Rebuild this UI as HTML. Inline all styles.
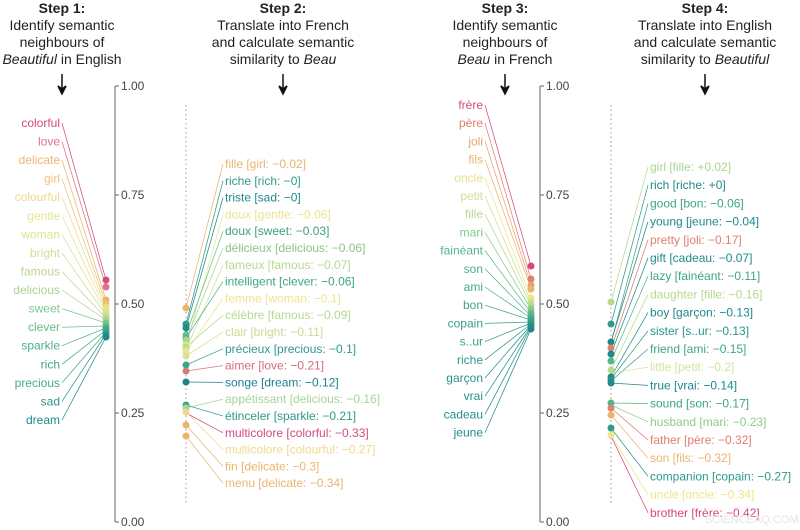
<!DOCTYPE html>
<html><head><meta charset="utf-8"><style>
body{margin:0;background:#fff}
svg{display:block;font-family:"Liberation Sans",Arial,sans-serif}
.t{font-size:14px;fill:#222;text-anchor:middle}
.l{font-size:12px}
.l line{stroke-width:0.75}
.ax{font-size:12px;fill:#444}
</style></head><body>
<svg width="800" height="530" viewBox="0 0 800 530" xmlns="http://www.w3.org/2000/svg">
<g class="t">
<text x="62" y="13" font-weight="bold">Step 1:</text>
<text x="62" y="30">Identify semantic</text>
<text x="62" y="47">neighbours of</text>
<text x="62" y="64"><tspan font-style="italic">Beautiful</tspan> in English</text>
<text x="283" y="13" font-weight="bold">Step 2:</text>
<text x="283" y="30">Translate into French</text>
<text x="283" y="47">and calculate semantic</text>
<text x="283" y="64">similarity to <tspan font-style="italic">Beau</tspan></text>
<text x="505" y="13" font-weight="bold">Step 3:</text>
<text x="505" y="30">Identify semantic</text>
<text x="505" y="47">neighbours of</text>
<text x="505" y="64"><tspan font-style="italic">Beau</tspan> in French</text>
<text x="705" y="13" font-weight="bold">Step 4:</text>
<text x="705" y="30">Translate into English</text>
<text x="705" y="47">and calculate semantic</text>
<text x="705" y="64">similarity to <tspan font-style="italic">Beautiful</tspan></text>
</g>
<g stroke="#111" stroke-width="1.5">
<line x1="62" y1="74" x2="62" y2="92"/><path d="M58,86 L62,94 L66,86 L62,89Z" fill="#111"/>
<line x1="283" y1="74" x2="283" y2="92"/><path d="M279,86 L283,94 L287,86 L283,89Z" fill="#111"/>
<line x1="505" y1="74" x2="505" y2="92"/><path d="M501,86 L505,94 L509,86 L505,89Z" fill="#111"/>
<line x1="705" y1="74" x2="705" y2="92"/><path d="M701,86 L705,94 L709,86 L705,89Z" fill="#111"/>
</g>
<g stroke="#666" stroke-width="1">
<line x1="115" y1="86" x2="115" y2="522"/>
<line x1="115" y1="86" x2="119" y2="86"/><line x1="115" y1="195" x2="119" y2="195"/><line x1="115" y1="304" x2="119" y2="304"/><line x1="115" y1="413" x2="119" y2="413"/><line x1="115" y1="522" x2="119" y2="522"/>
<line x1="540" y1="86" x2="540" y2="522"/>
<line x1="540" y1="86" x2="544" y2="86"/><line x1="540" y1="195" x2="544" y2="195"/><line x1="540" y1="304" x2="544" y2="304"/><line x1="540" y1="413" x2="544" y2="413"/><line x1="540" y1="522" x2="544" y2="522"/>
</g>
<g class="ax">
<text x="121" y="90">1.00</text><text x="121" y="199">0.75</text><text x="121" y="308">0.50</text><text x="121" y="417">0.25</text><text x="121" y="526">0.00</text>
<text x="546" y="90">1.00</text><text x="546" y="199">0.75</text><text x="546" y="308">0.50</text><text x="546" y="417">0.25</text><text x="546" y="526">0.00</text>
</g>
<g stroke="#aaa" stroke-width="1.2" stroke-dasharray="1.5,3">
<line x1="186" y1="105" x2="186" y2="505"/>
<line x1="611" y1="105" x2="611" y2="505"/>
</g>
<g class="l" text-anchor="end">
<line x1="62" y1="123" x2="106" y2="280" stroke="#d4497e"/><text x="60" y="127" fill="#d4497e">colorful</text>
<line x1="62" y1="141.6" x2="106" y2="287" stroke="#e07088"/><text x="60" y="145.6" fill="#e07088">love</text>
<line x1="62" y1="160.1" x2="106" y2="300" stroke="#ebb46e"/><text x="60" y="164.1" fill="#ebb46e">delicate</text>
<line x1="62" y1="178.7" x2="106" y2="304" stroke="#ecc276"/><text x="60" y="182.7" fill="#ecc276">girl</text>
<line x1="62" y1="197.2" x2="106" y2="307" stroke="#efd98a"/><text x="60" y="201.2" fill="#efd98a">colourful</text>
<line x1="62" y1="215.8" x2="106" y2="310" stroke="#e3e58e"/><text x="60" y="219.8" fill="#e3e58e">gentle</text>
<line x1="62" y1="234.4" x2="106" y2="312" stroke="#dde48e"/><text x="60" y="238.4" fill="#dde48e">woman</text>
<line x1="62" y1="252.9" x2="106" y2="315" stroke="#cfe095"/><text x="60" y="256.9" fill="#cfe095">bright</text>
<line x1="62" y1="271.5" x2="106" y2="318" stroke="#b8d88e"/><text x="60" y="275.5" fill="#b8d88e">famous</text>
<line x1="62" y1="290" x2="106" y2="320" stroke="#a9d493"/><text x="60" y="294" fill="#a9d493">delicious</text>
<line x1="62" y1="308.6" x2="106" y2="323" stroke="#7fc68a"/><text x="60" y="312.6" fill="#7fc68a">sweet</text>
<line x1="62" y1="327.2" x2="106" y2="326" stroke="#66bb8a"/><text x="60" y="331.2" fill="#66bb8a">clever</text>
<line x1="62" y1="345.7" x2="106" y2="328" stroke="#4fb08a"/><text x="60" y="349.7" fill="#4fb08a">sparkle</text>
<line x1="62" y1="364.3" x2="106" y2="330" stroke="#3ea48a"/><text x="60" y="368.3" fill="#3ea48a">rich</text>
<line x1="62" y1="382.8" x2="106" y2="332" stroke="#44ab88"/><text x="60" y="386.8" fill="#44ab88">precious</text>
<line x1="62" y1="401.4" x2="106" y2="334" stroke="#2b9688"/><text x="60" y="405.4" fill="#2b9688">sad</text>
<line x1="62" y1="420" x2="106" y2="337" stroke="#1f8a8a"/><text x="60" y="424" fill="#1f8a8a">dream</text>
</g>
<g>
<circle cx="106" cy="280" r="3.5" fill="#d4497e"/><circle cx="106" cy="287" r="3.5" fill="#e07088"/><circle cx="106" cy="300" r="3.5" fill="#ebb46e"/><circle cx="106" cy="304" r="3.5" fill="#ecc276"/><circle cx="106" cy="307" r="3.5" fill="#efd98a"/><circle cx="106" cy="310" r="3.5" fill="#e3e58e"/><circle cx="106" cy="312" r="3.5" fill="#dde48e"/><circle cx="106" cy="315" r="3.5" fill="#cfe095"/><circle cx="106" cy="318" r="3.5" fill="#b8d88e"/><circle cx="106" cy="320" r="3.5" fill="#a9d493"/><circle cx="106" cy="323" r="3.5" fill="#7fc68a"/><circle cx="106" cy="326" r="3.5" fill="#66bb8a"/><circle cx="106" cy="328" r="3.5" fill="#4fb08a"/><circle cx="106" cy="330" r="3.5" fill="#3ea48a"/><circle cx="106" cy="332" r="3.5" fill="#44ab88"/><circle cx="106" cy="334" r="3.5" fill="#2b9688"/><circle cx="106" cy="337" r="3.5" fill="#1f8a8a"/>
</g>
<g class="l">
<line x1="223" y1="164" x2="186" y2="308" stroke="#ebb46e"/><text x="225" y="168" fill="#ebb46e">fille [girl: −0.02]</text>
<line x1="223" y1="180.8" x2="186" y2="324" stroke="#2e9a88"/><text x="225" y="184.8" fill="#2e9a88">riche [rich: −0]</text>
<line x1="223" y1="197.6" x2="186" y2="328" stroke="#1f8a8a"/><text x="225" y="201.6" fill="#1f8a8a">triste [sad: −0]</text>
<line x1="223" y1="214.4" x2="186" y2="345" stroke="#e8e48e"/><text x="225" y="218.4" fill="#e8e48e">doux [gentle: −0.06]</text>
<line x1="223" y1="231.2" x2="186" y2="335" stroke="#6cbf88"/><text x="225" y="235.2" fill="#3f9f7a">doux [sweet: −0.03]</text>
<line x1="223" y1="248" x2="186" y2="340" stroke="#a9d493"/><text x="225" y="252" fill="#8fc48a">délicieux [delicious: −0.06]</text>
<line x1="223" y1="264.8" x2="186" y2="350" stroke="#cfe095"/><text x="225" y="268.8" fill="#b8d88e">fameux [famous: −0.07]</text>
<line x1="223" y1="281.6" x2="186" y2="338" stroke="#55b48a"/><text x="225" y="285.6" fill="#3ea48a">intelligent [clever: −0.06]</text>
<line x1="223" y1="298.4" x2="186" y2="352" stroke="#ece68c"/><text x="225" y="302.4" fill="#ece68c">femme [woman: −0.1]</text>
<line x1="223" y1="315.2" x2="186" y2="347" stroke="#b8d88e"/><text x="225" y="319.2" fill="#b8d88e">célèbre [famous: −0.09]</text>
<line x1="223" y1="332" x2="186" y2="356" stroke="#d5e39a"/><text x="225" y="336" fill="#c8dc94">clair [bright: −0.11]</text>
<line x1="223" y1="348.8" x2="186" y2="365" stroke="#3ea48a"/><text x="225" y="352.8" fill="#2e9a88">précieux [precious: −0.1]</text>
<line x1="223" y1="365.6" x2="186" y2="371" stroke="#d67a7a"/><text x="225" y="369.6" fill="#d66a7a">aimer [love: −0.21]</text>
<line x1="223" y1="382.4" x2="186" y2="382" stroke="#1f8090"/><text x="225" y="386.4" fill="#1f8090">songe [dream: −0.12]</text>
<line x1="223" y1="399.2" x2="186" y2="408" stroke="#a9d493"/><text x="225" y="403.2" fill="#a9d493">appétissant [delicious: −0.16]</text>
<line x1="223" y1="416" x2="186" y2="405" stroke="#3ea48a"/><text x="225" y="420" fill="#2e9a88">étinceler [sparkle: −0.21]</text>
<line x1="223" y1="432.8" x2="186" y2="413" stroke="#d4497e"/><text x="225" y="436.8" fill="#d4497e">multicolore [colorful: −0.33]</text>
<line x1="223" y1="449.6" x2="186" y2="412" stroke="#efd98a"/><text x="225" y="453.6" fill="#efd98a">multicolore [colourful: −0.27]</text>
<line x1="223" y1="466.4" x2="186" y2="425" stroke="#ebb46e"/><text x="225" y="470.4" fill="#ebb46e">fin [delicate: −0.3]</text>
<line x1="223" y1="483.2" x2="186" y2="436" stroke="#ebb46e"/><text x="225" y="487.2" fill="#ebb46e">menu [delicate: −0.34]</text>
</g>
<g>
<circle cx="186" cy="308" r="3.5" fill="#ebb46e"/><circle cx="186" cy="324" r="3.5" fill="#2e9a88"/><circle cx="186" cy="328" r="3.5" fill="#1f8a8a"/><circle cx="186" cy="335" r="3.5" fill="#6cbf88"/><circle cx="186" cy="338" r="3.5" fill="#55b48a"/><circle cx="186" cy="340" r="3.5" fill="#a9d493"/><circle cx="186" cy="345" r="3.5" fill="#e8e48e"/><circle cx="186" cy="347" r="3.5" fill="#b8d88e"/><circle cx="186" cy="350" r="3.5" fill="#cfe095"/><circle cx="186" cy="352" r="3.5" fill="#ece68c"/><circle cx="186" cy="356" r="3.5" fill="#d5e39a"/><circle cx="186" cy="365" r="3.5" fill="#3ea48a"/><circle cx="186" cy="371" r="3.5" fill="#d67a7a"/><circle cx="186" cy="382" r="3.5" fill="#1f8090"/><circle cx="186" cy="405" r="3.5" fill="#3ea48a"/><circle cx="186" cy="408" r="3.5" fill="#a9d493"/><circle cx="186" cy="412" r="3.5" fill="#efd98a"/><circle cx="186" cy="425" r="3.5" fill="#ebb46e"/><circle cx="186" cy="436" r="3.5" fill="#ebb46e"/>
</g>
<g class="l" text-anchor="end">
<line x1="485" y1="105" x2="531" y2="266" stroke="#d4497e"/><text x="483" y="109" fill="#d4497e">frère</text>
<line x1="485" y1="123.2" x2="531" y2="279" stroke="#e0806e"/><text x="483" y="127.2" fill="#e0806e">père</text>
<line x1="485" y1="141.4" x2="531" y2="285" stroke="#e8a070"/><text x="483" y="145.4" fill="#e8a070">joli</text>
<line x1="485" y1="159.6" x2="531" y2="289" stroke="#ebb46e"/><text x="483" y="163.6" fill="#ebb46e">fils</text>
<line x1="485" y1="177.8" x2="531" y2="298" stroke="#ece68c"/><text x="483" y="181.8" fill="#e3e08c">oncle</text>
<line x1="485" y1="196" x2="531" y2="302" stroke="#cfe095"/><text x="483" y="200" fill="#cfe095">petit</text>
<line x1="485" y1="214.2" x2="531" y2="305" stroke="#b8d88e"/><text x="483" y="218.2" fill="#b8d88e">fille</text>
<line x1="485" y1="232.4" x2="531" y2="309" stroke="#8ccc8a"/><text x="483" y="236.4" fill="#7fc68a">mari</text>
<line x1="485" y1="250.6" x2="531" y2="313" stroke="#66bb8a"/><text x="483" y="254.6" fill="#55b48a">fainéant</text>
<line x1="485" y1="268.8" x2="531" y2="316" stroke="#55b48a"/><text x="483" y="272.8" fill="#4fb08a">son</text>
<line x1="485" y1="287" x2="531" y2="318" stroke="#4aae8a"/><text x="483" y="291" fill="#44ab88">ami</text>
<line x1="485" y1="305.2" x2="531" y2="320" stroke="#3ea48a"/><text x="483" y="309.2" fill="#3ea48a">bon</text>
<line x1="485" y1="323.4" x2="531" y2="322" stroke="#38a08a"/><text x="483" y="327.4" fill="#38a08a">copain</text>
<line x1="485" y1="341.6" x2="531" y2="323" stroke="#35a08a"/><text x="483" y="345.6" fill="#35a08a">s..ur</text>
<line x1="485" y1="359.8" x2="531" y2="324" stroke="#2e9a88"/><text x="483" y="363.8" fill="#2e9a88">riche</text>
<line x1="485" y1="378" x2="531" y2="325" stroke="#2a9588"/><text x="483" y="382" fill="#2a9588">garçon</text>
<line x1="485" y1="396.2" x2="531" y2="326" stroke="#25918a"/><text x="483" y="400.2" fill="#25918a">vrai</text>
<line x1="485" y1="414.4" x2="531" y2="327" stroke="#22908a"/><text x="483" y="418.4" fill="#22908a">cadeau</text>
<line x1="485" y1="432.6" x2="531" y2="329" stroke="#1f8a8a"/><text x="483" y="436.6" fill="#1f8a8a">jeune</text>
</g>
<g>
<circle cx="531" cy="266" r="3.5" fill="#d4497e"/><circle cx="531" cy="279" r="3.5" fill="#e0806e"/><circle cx="531" cy="285" r="3.5" fill="#e8a070"/><circle cx="531" cy="289" r="3.5" fill="#ebb46e"/><circle cx="531" cy="298" r="3.5" fill="#ece68c"/><circle cx="531" cy="302" r="3.5" fill="#cfe095"/><circle cx="531" cy="305" r="3.5" fill="#b8d88e"/><circle cx="531" cy="309" r="3.5" fill="#8ccc8a"/><circle cx="531" cy="313" r="3.5" fill="#66bb8a"/><circle cx="531" cy="316" r="3.5" fill="#55b48a"/><circle cx="531" cy="318" r="3.5" fill="#4aae8a"/><circle cx="531" cy="320" r="3.5" fill="#3ea48a"/><circle cx="531" cy="322" r="3.5" fill="#38a08a"/><circle cx="531" cy="324" r="3.5" fill="#2e9a88"/><circle cx="531" cy="326" r="3.5" fill="#25918a"/><circle cx="531" cy="329" r="3.5" fill="#1f8a8a"/>
</g>
<g class="l">
<line x1="648" y1="167" x2="611" y2="302" stroke="#b8d88e"/><text x="650" y="171" fill="#a9d493">girl [fille: +0.02]</text>
<line x1="648" y1="185.2" x2="611" y2="324" stroke="#2e9a88"/><text x="650" y="189.2" fill="#1f8a8a">rich [riche: +0]</text>
<line x1="648" y1="203.4" x2="611" y2="343" stroke="#3ea48a"/><text x="650" y="207.4" fill="#3ea48a">good [bon: −0.06]</text>
<line x1="648" y1="221.6" x2="611" y2="342" stroke="#1f8a8a"/><text x="650" y="225.6" fill="#1f8a8a">young [jeune: −0.04]</text>
<line x1="648" y1="239.8" x2="611" y2="349" stroke="#e0806e"/><text x="650" y="243.8" fill="#e0806e">pretty [joli: −0.17]</text>
<line x1="648" y1="258" x2="611" y2="354" stroke="#1f8a8a"/><text x="650" y="262" fill="#1f8a8a">gift [cadeau: −0.07]</text>
<line x1="648" y1="276.2" x2="611" y2="361" stroke="#55b48a"/><text x="650" y="280.2" fill="#3ea48a">lazy [fainéant: −0.11]</text>
<line x1="648" y1="294.4" x2="611" y2="370" stroke="#b8d88e"/><text x="650" y="298.4" fill="#b8d88e">daughter [fille: −0.16]</text>
<line x1="648" y1="312.6" x2="611" y2="377" stroke="#1f8a8a"/><text x="650" y="316.6" fill="#1f8a8a">boy [garçon: −0.13]</text>
<line x1="648" y1="330.8" x2="611" y2="379" stroke="#2a9588"/><text x="650" y="334.8" fill="#2a9588">sister [s..ur: −0.13]</text>
<line x1="648" y1="349" x2="611" y2="381" stroke="#3ea48a"/><text x="650" y="353" fill="#3ea48a">friend [ami: −0.15]</text>
<line x1="648" y1="367.2" x2="611" y2="373" stroke="#d5e39a"/><text x="650" y="371.2" fill="#d5e39a">little [petit: −0.2]</text>
<line x1="648" y1="385.4" x2="611" y2="383" stroke="#1f8a8a"/><text x="650" y="389.4" fill="#1f8a8a">true [vrai: −0.14]</text>
<line x1="648" y1="403.6" x2="611" y2="403" stroke="#55b48a"/><text x="650" y="407.6" fill="#3ea48a">sound [son: −0.17]</text>
<line x1="648" y1="421.8" x2="611" y2="405" stroke="#8ccc8a"/><text x="650" y="425.8" fill="#8ccc8a">husband [mari: −0.23]</text>
<line x1="648" y1="440" x2="611" y2="408" stroke="#e0806e"/><text x="650" y="444" fill="#e0806e">father [père: −0.32]</text>
<line x1="648" y1="458.2" x2="611" y2="415" stroke="#ebb46e"/><text x="650" y="462.2" fill="#ebb46e">son [fils: −0.32]</text>
<line x1="648" y1="476.4" x2="611" y2="428" stroke="#2e9a88"/><text x="650" y="480.4" fill="#2e9a88">companion [copain: −0.27]</text>
<line x1="648" y1="494.6" x2="611" y2="435" stroke="#ece68c"/><text x="650" y="498.6" fill="#ece68c">uncle [oncle: −0.34]</text>
<line x1="648" y1="512.8" x2="611" y2="436" stroke="#d4497e"/><text x="650" y="516.8" fill="#d4497e">brother [frère: −0.42]</text>
</g>
<g>
<circle cx="611" cy="302" r="3.5" fill="#b8d88e"/><circle cx="611" cy="324" r="3.5" fill="#2e9a88"/><circle cx="611" cy="342" r="3.5" fill="#1f8a8a"/><circle cx="611" cy="348" r="3.5" fill="#e0806e"/><circle cx="611" cy="354" r="3.5" fill="#1f8a8a"/><circle cx="611" cy="361" r="3.5" fill="#55b48a"/><circle cx="611" cy="370" r="3.5" fill="#b8d88e"/><circle cx="611" cy="377" r="3.5" fill="#1f8a8a"/><circle cx="611" cy="380" r="3.5" fill="#2a9588"/><circle cx="611" cy="383" r="3.5" fill="#1f8a8a"/><circle cx="611" cy="403" r="3.5" fill="#55b48a"/><circle cx="611" cy="408" r="3.5" fill="#e0806e"/><circle cx="611" cy="415" r="3.5" fill="#ebb46e"/><circle cx="611" cy="428" r="3.5" fill="#2e9a88"/><circle cx="611" cy="435" r="3.5" fill="#ece68c"/>
</g>
<text x="705" y="523" font-size="11" fill="#e4e4e4">SCIENCEAQ.COM</text>
</svg>
</body></html>
